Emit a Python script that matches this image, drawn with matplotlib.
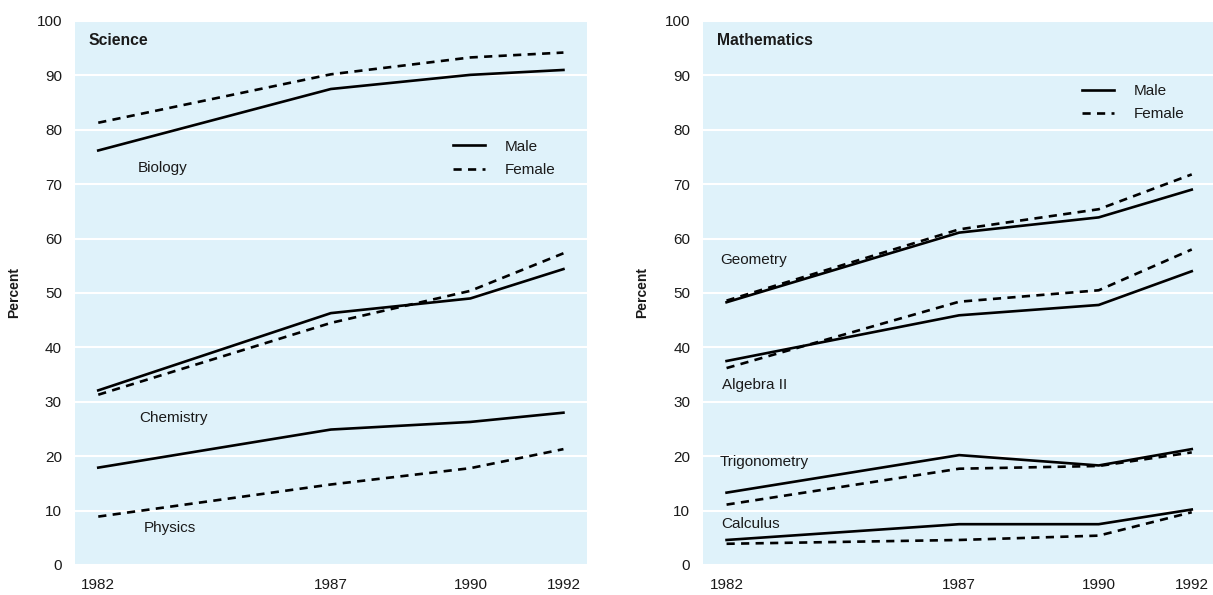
import matplotlib
matplotlib.use("Agg")
import matplotlib.pyplot as plt
from matplotlib.lines import Line2D

plt.rcParams['font.family'] = ['Liberation Sans', 'DejaVu Sans']

years = [1982, 1987, 1990, 1992]
year_labels = ["1982", "1987", "1990", "1992"]

# Science
biology_male = [76.2, 87.5, 90.1, 91.0]
biology_female = [81.3, 90.2, 93.3, 94.2]
chemistry_male = [32.1, 46.3, 49.0, 54.4]
chemistry_female = [31.3, 44.5, 50.4, 57.3]
physics_male = [17.9, 24.9, 26.3, 28.0]
physics_female = [8.9, 14.8, 17.8, 21.3]

# Mathematics
geometry_male = [48.3, 61.1, 63.9, 69.0]
geometry_female = [48.6, 61.7, 65.4, 71.8]
algebra2_male = [37.5, 45.9, 47.8, 54.0]
algebra2_female = [36.2, 48.4, 50.5, 58.0]
trig_male = [13.3, 20.2, 18.3, 21.3]
trig_female = [11.1, 17.7, 18.2, 20.7]
calculus_male = [4.6, 7.5, 7.5, 10.2]
calculus_female = [3.9, 4.6, 5.4, 9.7]

science_labels = [("Biology", 1982.85, 73.0), ("Chemistry", 1982.88, 27.1), ("Physics", 1982.98, 6.8)]
math_labels = [("Geometry", 1981.86, 56.0), ("Algebra II", 1981.9, 33.0),
               ("Trigonometry", 1981.86, 19.0), ("Calculus", 1981.88, 7.6)]

BG = "#DFF2FA"
TXT = "#1a1a1a"
LW = 1.9
DASH = (3.1, 2.4)
FS = 11

fig = plt.figure(figsize=(12.13, 5.95), dpi=100)
ax1 = fig.add_axes([75 / 1213, 30 / 595, 511.7 / 1213, 544 / 595])
ax2 = fig.add_axes([703.3 / 1213, 30 / 595, 511.7 / 1213, 544 / 595])


def style(ax, title):
    ax.set_facecolor(BG)
    ax.set_xlim(1981.5, 1992.5)
    ax.set_ylim(0, 100)
    ax.set_yticks(range(0, 101, 10))
    ax.set_xticks(years)
    ax.set_xticklabels(year_labels)
    for s in ax.spines.values():
        s.set_visible(False)
    ax.grid(axis='y', color='white', lw=1.5)
    ax.set_axisbelow(True)
    ax.tick_params(axis='both', length=0, labelsize=FS, colors=TXT)
    ax.tick_params(axis='y', pad=9.4)
    ax.tick_params(axis='x', pad=9.5)
    ax.set_ylabel("Percent", fontsize=10, fontweight='bold', color=TXT, labelpad=11)
    ax.text(0.027, 0.964, title, transform=ax.transAxes, fontsize=11.3,
            fontweight='bold', color=TXT, va='center', ha='left')


style(ax1, "Science")
style(ax2, "Mathematics")

for m, f in [(biology_male, biology_female), (chemistry_male, chemistry_female),
             (physics_male, physics_female)]:
    ax1.plot(years, m, color='black', lw=LW)
    ax1.plot(years, f, color='black', lw=LW, dashes=DASH)

for m, f in [(geometry_male, geometry_female), (algebra2_male, algebra2_female),
             (trig_male, trig_female), (calculus_male, calculus_female)]:
    ax2.plot(years, m, color='black', lw=LW)
    ax2.plot(years, f, color='black', lw=LW, dashes=DASH)

for t, x, y in science_labels:
    ax1.text(x, y, t, fontsize=FS, color=TXT, ha='left', va='center')
for t, x, y in math_labels:
    ax2.text(x, y, t, fontsize=FS, color=TXT, ha='left', va='center')

handles = [Line2D([], [], color='black', lw=LW),
           Line2D([], [], color='black', lw=LW, dashes=DASH)]
for ax, anchor in [(ax1, (0.7125, 0.807)), (ax2, (0.714, 0.909))]:
    ax.legend(handles, ["Male", "Female"], loc='upper left', bbox_to_anchor=anchor,
              frameon=False, fontsize=FS, handlelength=2.1, handletextpad=1.25,
              labelspacing=0.6, labelcolor=TXT)

fig.savefig("out.png", dpi=100)
